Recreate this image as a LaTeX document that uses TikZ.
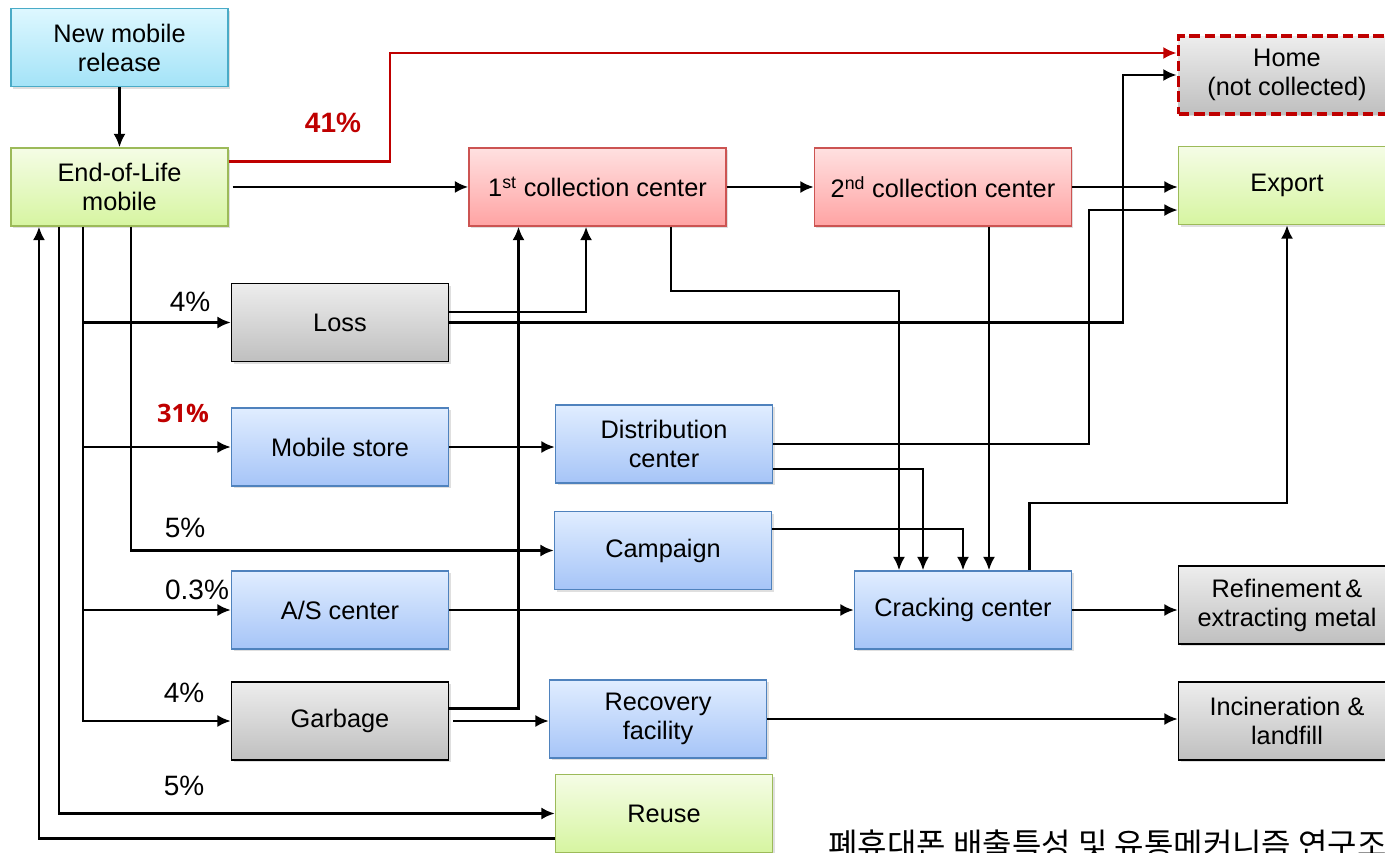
\documentclass[tikz,border=0pt]{standalone}
\usepackage{fontspec}
\setmainfont{Liberation Sans}
\newfontfamily\kofont{Noto Sans CJK KR}
\newfontfamily\segfont{Open Sans}
\usepackage{tikz}
\definecolor{cyantop}{rgb}{0.87,0.97,1.0}
\definecolor{cyanbot}{rgb}{0.64,0.89,0.97}
\definecolor{cyanline}{rgb}{0.29,0.67,0.78}
\definecolor{greentop}{rgb}{0.96,0.99,0.90}
\definecolor{greenbot}{rgb}{0.84,0.96,0.63}
\definecolor{greenline}{rgb}{0.61,0.73,0.35}
\definecolor{pinktop}{rgb}{1.0,0.88,0.88}
\definecolor{pinkbot}{rgb}{1.0,0.64,0.64}
\definecolor{pinkline}{rgb}{0.80,0.33,0.32}
\definecolor{graytop}{rgb}{0.93,0.93,0.93}
\definecolor{graybot}{rgb}{0.75,0.75,0.75}
\definecolor{bluetop}{rgb}{0.88,0.93,1.0}
\definecolor{bluebot}{rgb}{0.65,0.77,0.97}
\definecolor{blueline}{rgb}{0.31,0.51,0.74}
\definecolor{homered}{rgb}{0.75,0.0,0.0}
\usetikzlibrary{arrows, arrows.meta, positioning, shapes, shadows}
\newcommand{\boxfont}{\fontsize{19}{21.75}\selectfont}
\newcommand{\pctfont}{\fontsize{21}{24}\selectfont}
\tikzstyle{block} = [draw, rectangle, line width=1.1pt, minimum height=58.5pt, minimum width=162.75pt, inner sep=2pt, align=center, font=\boxfont, drop shadow={shadow xshift=1.5pt, shadow yshift=-1.5pt, opacity=0.25}]
\tikzstyle{newblock} = [block, draw=cyanline, top color=cyantop, bottom color=cyanbot]
\tikzstyle{lifeblock} = [block, draw=greenline, top color=greentop, bottom color=greenbot]
\tikzstyle{collblock} = [block, draw=pinkline, top color=pinktop, bottom color=pinkbot, minimum width=192.75pt]
\tikzstyle{grayblock} = [block, draw=black, top color=graytop, bottom color=graybot]
\tikzstyle{blueblock} = [block, draw=blueline, top color=bluetop, bottom color=bluebot]
\tikzstyle{homeblock} = [grayblock, preaction={draw=black, line width=1.8pt}, draw=homered, line width=2.8pt, dash pattern=on 8pt off 3.5pt]
\tikzstyle{arrow} = [arrows=->, black, line width=1.8pt]
\tikzstyle{redarrow} = [arrows=->, draw=homered, line width=1.8pt]
\tikzstyle{pct} = [font=\pctfont, inner sep=0pt]
\tikzstyle{redpct} = [text=homered, inner sep=0pt]

\begin{document}
\begin{tikzpicture}[auto, >={Latex[length=10pt, width=9pt]}, x=0.75pt, y=-0.75pt]
    \useasboundingbox (0,0) rectangle (1385,853);

    % Place the blocks
    \node [newblock] (release) at (119.5,47.5) {New mobile\\release};
    \node [lifeblock, below=45pt of release] (eol) {End-of-Life\\mobile};
    \node [collblock] (coll1) at (597.5,187) {1\textsuperscript{st} collection center};
    \node [collblock, right=65.25pt of coll1] (coll2) {2\textsuperscript{nd} collection center};
    \node [homeblock] (home) at (1287,75) {Home\\(not collected)};
    \node [lifeblock] (export) at (1287,185.5) {Export};
    \node [grayblock] (loss) at (340,322.5) {Loss};
    \node [blueblock] (store) at (340,447) {Mobile store};
    \node [blueblock] (distr) at (664,444) {Distribution\\center};
    \node [blueblock] (campaign) at (663,550.5) {Campaign};
    \node [blueblock] (asc) at (340,610) {A/S center};
    \node [blueblock] (crack) at (963,610) {Cracking center};
    \node [grayblock] (refine) at (1287,605) {Refinement\,\&\\extracting metal};
    \node [grayblock] (garbage) at (340,721) {Garbage};
    \node [blueblock] (recovery) at (658,719) {Recovery\\facility};
    \node [grayblock] (incin) at (1287,721) {Incineration \&\\landfill};
    \node [lifeblock] (reuse) at (664,813.5) {Reuse};

    % Shares
    \node [redpct, font=\pctfont\bfseries] (p41) at (333,123) {41\%};
    \node [redpct, font=\segfont\fontsize{19}{22}\selectfont\bfseries] (p31) at (183,413) {31\%};
    \node [pct] (p4loss) at (190,302) {4\%};
    \node [pct] (p5camp) at (185,528) {5\%};
    \node [pct] (p03) at (197,590) {0.3\%};
    \node [pct] (p4garb) at (184,693) {4\%};
    \node [pct] (p5reuse) at (184,786) {5\%};
    \node [anchor=base west, inner sep=0pt, font=\kofont\fontsize{24}{28}\selectfont] (source) at (828,856) {폐휴대폰 배출특성 및 유통메커니즘 연구조};

    % Connect the nodes
    \draw [arrow] (release) -- (eol);
    \draw [redarrow] ([yshift=19pt]eol.east) -- ++(161,0) |- ([yshift=16.5pt]home.west);
    \draw [arrow] ([xshift=3pt]eol.east) -- (eol.east -| coll1.west);
    \draw [arrow] (coll1) -- (coll2);
    \draw [arrow] (coll2.east) -- (coll2.east -| export.west);
    \draw [arrow] (distr.east) -- ++(316,0) |- ([yshift=-18.4pt]export.west);
    \draw [arrow] ([yshift=7.9pt]loss.east) -| ([xshift=-8.6pt]coll1.south);
    \draw [arrow] (loss.east) -- ++(674,0) |- (home.west);
    \draw [arrow] (store) -- (store -| distr.west);
    \draw [arrow] ([xshift=55pt]coll1.south) -- ++(0,64) -| ([xshift=-48pt]crack.north);
    \draw [arrow] ([yshift=-18.75pt]distr.east) -| ([xshift=-30pt]crack.north);
    \draw [arrow] ([yshift=16pt]campaign.east) -| (crack.north);
    \draw [arrow] ([xshift=19.5pt]crack.north |- coll2.south) -- ([xshift=19.5pt]crack.north);
    \draw [arrow] ([xshift=50pt]crack.north) -- ++(0,-67) -| (export.south);
    \draw [arrow] (crack.east) -- (crack.east -| refine.west);
    \draw [arrow] (asc) -- (crack);
    \draw [arrow] ([yshift=9.4pt]garbage.east) -| ([xshift=-59.25pt]coll1.south);
    \draw [arrow] ([xshift=3pt]garbage.east) -- (garbage.east -| recovery.west);
    \draw [arrow] (recovery.east) -- (recovery.east -| incin.west);

    % Flows out of the end-of-life mobile
    \coordinate (trunk) at ([xshift=-27.4pt]eol.south);
    \draw [arrow] (trunk) |- (garbage.west);
    \foreach \n in {loss, store, asc}
        \draw [arrow] (trunk |- \n.west) -- (\n.west);
    \draw [arrow] ([xshift=8.6pt]eol.south) |- (campaign.west);
    \draw [arrow] ([xshift=-45.4pt]eol.south) |- (reuse.west);
    \draw [arrow] ([yshift=-18.75pt]reuse.west) -| ([xshift=-60.4pt]eol.south);
\end{tikzpicture}
\end{document}
